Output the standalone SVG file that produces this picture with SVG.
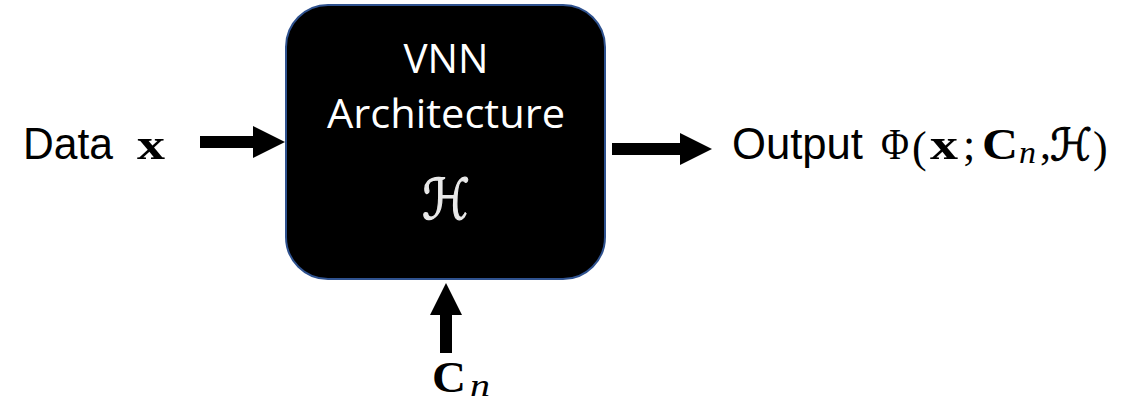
<svg xmlns="http://www.w3.org/2000/svg" width="1133" height="405" viewBox="0 0 1133 405">
<style>
.lbl{font-family:"Liberation Sans",Arial,sans-serif;font-size:44px;fill:#000}
.m{font-family:"Liberation Serif","Times New Roman",serif;font-size:44px;fill:#000}
.scr{font-family:"DejaVu Serif","DejaVu Sans","Noto Sans",serif}
.b{font-weight:bold}
.i{font-style:italic}
.sub{font-size:31px}
.box{fill:#000;stroke:#2F528F;stroke-width:2}
.boxt{font-family:"Open Sans","Liberation Sans",sans-serif;font-size:40px;fill:#fff;text-anchor:middle}
.arr{stroke:#000;stroke-width:12;fill:none;marker-end:url(#head)}
</style>
<defs>
<marker id="head" markerUnits="userSpaceOnUse" viewBox="0 0 32 32" markerWidth="32" markerHeight="32" refX="0" refY="16" orient="auto">
<path d="M0,0 L32,16 L0,32 Z" fill="#000"/>
</marker>
</defs>
<g id="connectors">
<line class="arr" x1="200" y1="142" x2="253" y2="142"/>
<line class="arr" x1="612" y1="149" x2="680" y2="149"/>
<line class="arr" x1="446" y1="353" x2="446" y2="315"/>
</g>
<g id="node-vnn">
<rect class="box" x="286" y="5" width="319" height="274" rx="42" ry="42"/>
<text class="boxt" x="446" y="73" textLength="85" lengthAdjust="spacingAndGlyphs">VNN</text>
<text class="boxt" x="446" y="128" textLength="238" lengthAdjust="spacingAndGlyphs">Architecture</text>
<text class="scr" x="446" y="219" text-anchor="middle" font-size="56" fill="#e8e8e8" stroke="#e8e8e8" stroke-width="1.2" textLength="48" lengthAdjust="spacingAndGlyphs">ℋ</text>
</g>
<g id="node-data">
<text class="lbl" x="23" y="159" textLength="90" lengthAdjust="spacingAndGlyphs">Data</text>
<text class="m b" x="137" y="159" textLength="28" lengthAdjust="spacingAndGlyphs">x</text>
</g>
<g id="node-output">
<text class="lbl" x="732" y="159" textLength="131" lengthAdjust="spacingAndGlyphs">Output</text>
<text class="m" x="881" y="159" textLength="28" lengthAdjust="spacingAndGlyphs">Φ</text>
<text class="m" x="912" y="162" font-size="50">(</text>
<text class="m b" x="930" y="159" textLength="28" lengthAdjust="spacingAndGlyphs">x</text>
<text class="m" x="963" y="159">;</text>
<text class="m b" x="982" y="159" textLength="36" lengthAdjust="spacingAndGlyphs">C</text>
<text class="m i sub" x="1019" y="163" textLength="17" lengthAdjust="spacingAndGlyphs">n</text>
<text class="m" x="1040" y="159">,</text>
<text class="scr" x="1050" y="160" font-size="44" stroke="#000" stroke-width="1" textLength="42" lengthAdjust="spacingAndGlyphs">ℋ</text>
<text class="m" x="1093" y="162" font-size="50">)</text>
</g>
<g id="node-cn">
<text class="m b" x="432" y="392" textLength="34" lengthAdjust="spacingAndGlyphs">C</text>
<text class="m i sub" x="470" y="396" textLength="20" lengthAdjust="spacingAndGlyphs">n</text>
</g>
</svg>
